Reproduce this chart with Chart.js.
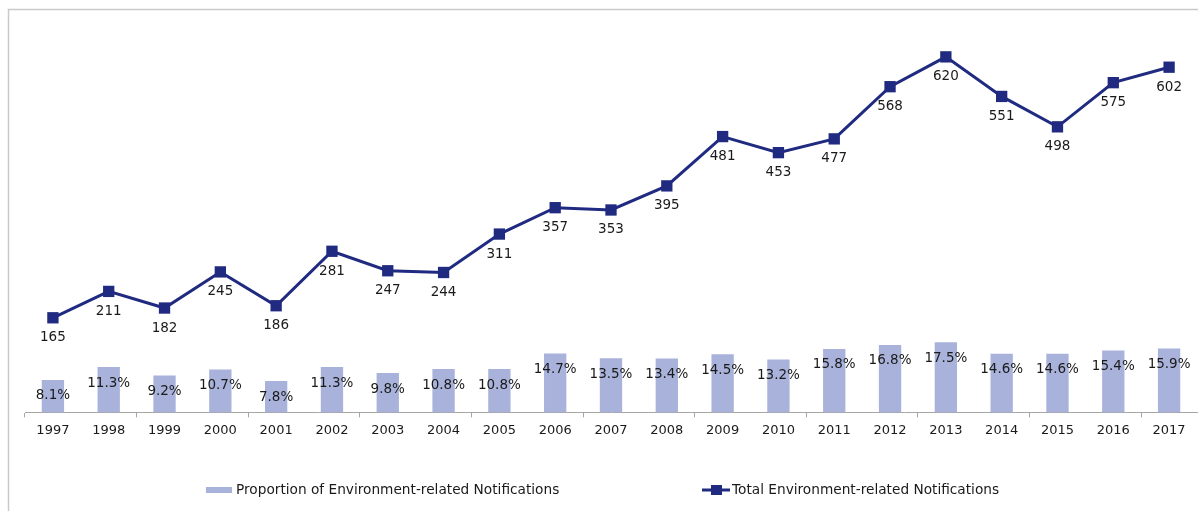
<!DOCTYPE html>
<html>
<head>
<meta charset="utf-8">
<script src="https://cdn.jsdelivr.net/npm/chart.js@4/dist/chart.umd.min.js"></script>
<style>
html,body{margin:0;padding:0;background:#fff;}
#wrap{width:1198px;height:511px;position:relative;}
</style>
</head>
<body>
<div id="wrap"><canvas id="c" width="1198" height="511"></canvas></div>
<script>
const years = ['1997','1998','1999','2000','2001','2002','2003','2004','2005','2006','2007','2008','2009','2010','2011','2012','2013','2014','2015','2016','2017'];
const proportion = [8.1,11.3,9.2,10.7,7.8,11.3,9.8,10.8,10.8,14.7,13.5,13.4,14.5,13.2,15.8,16.8,17.5,14.6,14.6,15.4,15.9];
const totals = [165,211,182,245,186,281,247,244,311,357,353,395,481,453,477,568,620,551,498,575,602];
const seriesNames = ['Proportion of Environment-related Notifications','Total Environment-related Notifications'];

const BAR_COLOR = '#A8B2DA';
const LINE_COLOR = '#1F2A80';
const TEXT_COLOR = '#1a1a1a';
const FONT_FAMILY = '"DejaVu Sans", sans-serif';
const LEGEND_FAMILY = '"DejaVu Sans", sans-serif';

const framePlugin = {
  id: 'frame',
  beforeDraw(chart) {
    const ctx = chart.ctx;
    ctx.save();
    ctx.strokeStyle = '#C9C9C9';
    ctx.lineWidth = 1.5;
    ctx.beginPath();
    ctx.moveTo(8.5, 600);
    ctx.lineTo(8.5, 9.5);
    ctx.lineTo(1300, 9.5);
    ctx.stroke();
    ctx.restore();
  }
};

const labelPlugin = {
  id: 'vlabels',
  afterDatasetsDraw(chart) {
    const ctx = chart.ctx;
    ctx.save();
    ctx.fillStyle = TEXT_COLOR;
    ctx.font = '13.5px ' + FONT_FAMILY;
    ctx.textAlign = 'center';
    ctx.textBaseline = 'middle';
    chart.data.datasets.forEach((ds, di) => {
      const meta = chart.getDatasetMeta(di);
      meta.data.forEach((el, i) => {
        if (ds.type === 'line') {
          ctx.fillText(String(ds.data[i]), el.x, el.y + 20);
        } else {
          ctx.fillText(ds.data[i].toFixed(1) + '%', el.x, el.y + 16);
        }
      });
    });
    ctx.restore();
  }
};

const legendPlugin = {
  id: 'customLegend',
  afterDraw(chart) {
    const ctx = chart.ctx;
    const y = 490;
    ctx.save();
    ctx.font = '13.7px ' + LEGEND_FAMILY;
    ctx.textBaseline = 'middle';
    ctx.textAlign = 'left';
    const bx = 206;
    ctx.fillStyle = BAR_COLOR;
    ctx.fillRect(bx, y - 3, 26, 6);
    ctx.fillStyle = TEXT_COLOR;
    ctx.fillText(seriesNames[0], bx + 30, y);
    const lx = 702;
    ctx.strokeStyle = LINE_COLOR;
    ctx.lineWidth = 3;
    ctx.beginPath();
    ctx.moveTo(lx, y);
    ctx.lineTo(lx + 28, y);
    ctx.stroke();
    ctx.fillStyle = LINE_COLOR;
    ctx.fillRect(lx + 9, y - 5, 11, 10);
    ctx.fillStyle = TEXT_COLOR;
    ctx.fillText(seriesNames[1], lx + 30, y);
    ctx.restore();
  }
};

new Chart(document.getElementById('c'), {
  type: 'bar',
  data: {
    labels: years,
    datasets: [
      {
        type: 'line',
        label: seriesNames[1],
        data: totals,
        yAxisID: 'y',
        borderColor: LINE_COLOR,
        backgroundColor: LINE_COLOR,
        borderWidth: 3,
        pointStyle: 'rect',
        pointRadius: 8,
        pointHoverRadius: 8,
        pointBackgroundColor: LINE_COLOR,
        pointBorderColor: LINE_COLOR,
        pointBorderWidth: 0,
        tension: 0,
        clip: false,
        order: 0
      },
      {
        type: 'bar',
        label: seriesNames[0],
        data: proportion,
        yAxisID: 'y1',
        backgroundColor: BAR_COLOR,
        borderWidth: 0,
        categoryPercentage: 1,
        barPercentage: 0.4,
        order: 1
      }
    ]
  },
  options: {
    responsive: false,
    animation: false,
    events: [],
    layout: { autoPadding: false, padding: { left: 25, right: 1, top: 11, bottom: 68 } },
    plugins: { legend: { display: false }, tooltip: { enabled: false } },
    scales: {
      x: {
        type: 'category',
        offset: true,
        afterFit: (s) => { s.paddingLeft = 0; s.paddingRight = 0; },
        grid: {
          offset: true,
          drawOnChartArea: false,
          drawTicks: true,
          tickLength: 5,
          color: (c) => (c.index !== undefined && c.index % 2 === 0) ? '#A6A6A6' : 'rgba(0,0,0,0)'
        },
        border: { display: true, color: '#A6A6A6', width: 1 },
        ticks: {
          autoSkip: false,
          maxRotation: 0,
          padding: 5,
          color: TEXT_COLOR,
          font: { family: FONT_FAMILY, size: 13 }
        }
      },
      y: { display: false, min: 0, max: 700 },
      y1: { display: false, min: 0, max: 100 }
    }
  },
  plugins: [framePlugin, labelPlugin, legendPlugin]
});
</script>
</body>
</html>
